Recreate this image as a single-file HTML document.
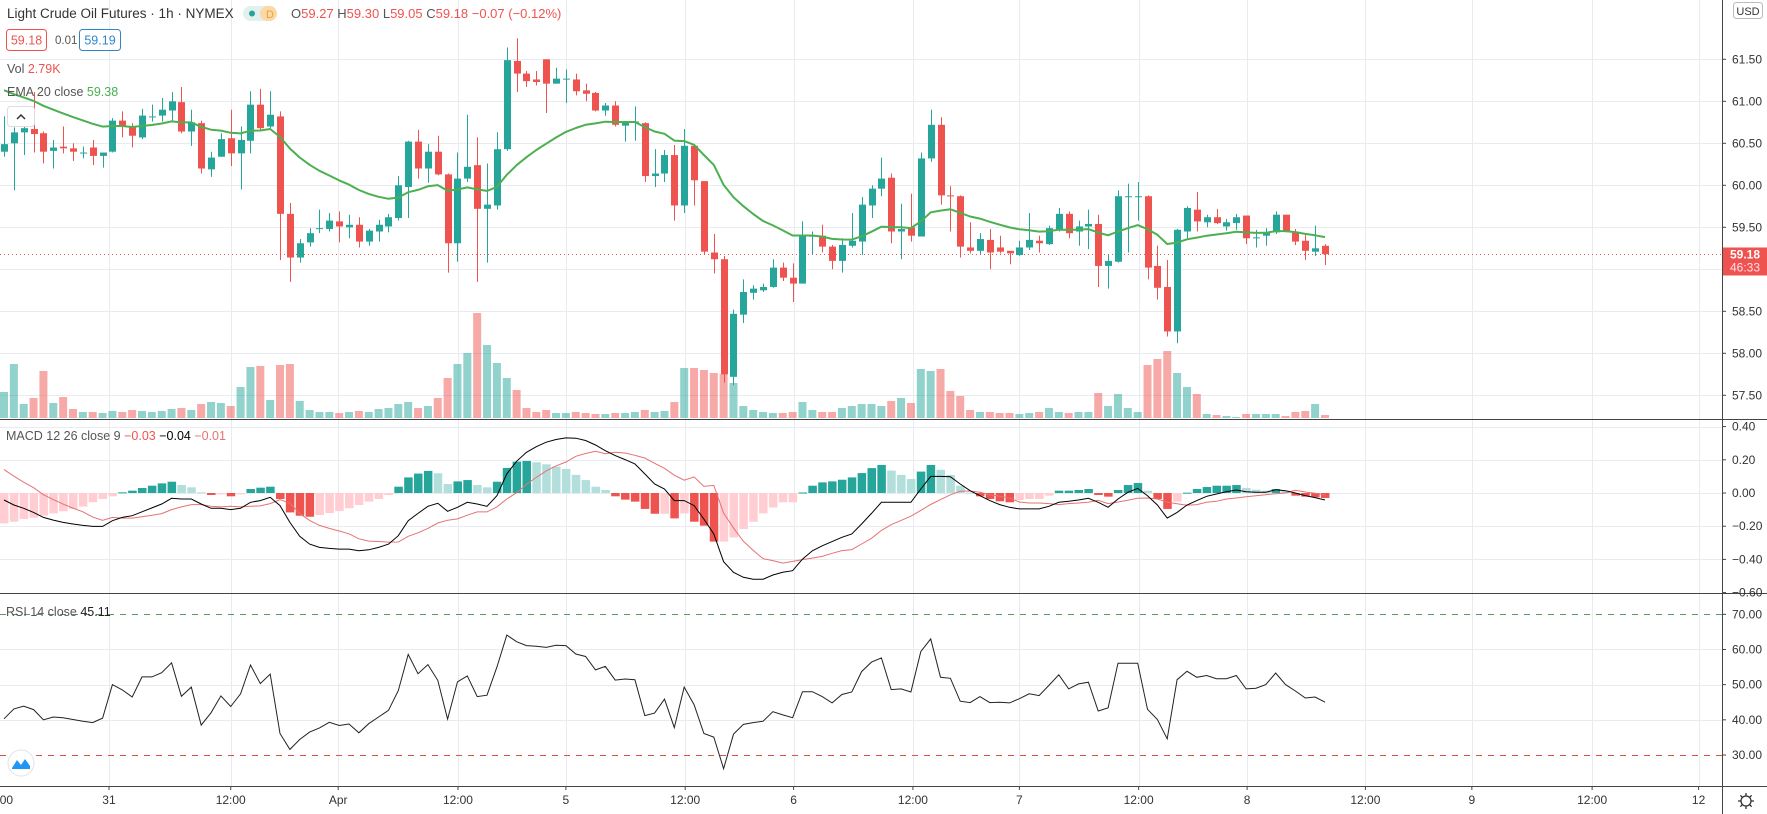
<!DOCTYPE html>
<html><head><meta charset="utf-8"><title>Light Crude Oil Futures</title>
<style>
html,body{margin:0;padding:0;background:#fff;width:1767px;height:814px;overflow:hidden;font-family:"Liberation Sans",sans-serif;}
svg{display:block}
</style></head>
<body>
<svg id="chart" width="1767" height="814" viewBox="0 0 1767 814" xmlns="http://www.w3.org/2000/svg" font-family="Liberation Sans, sans-serif"></svg>
<script>
// ---- data ----
const opens=[60.40,60.50,60.63,60.67,60.62,60.41,60.46,60.44,60.39,60.45,60.35,60.40,60.77,60.70,60.57,60.81,60.83,60.89,60.99,60.64,60.74,60.19,60.34,60.56,60.38,60.53,60.96,60.70,60.82,59.66,59.14,59.32,59.48,59.48,59.57,59.50,59.53,59.33,59.45,59.51,59.61,59.98,60.52,60.20,60.40,60.13,59.31,60.08,60.24,59.72,59.76,60.43,61.48,61.33,61.26,61.50,61.21,61.27,61.26,61.13,61.10,60.89,60.95,60.71,60.76,60.74,60.11,60.14,60.36,59.76,60.47,60.05,59.20,59.12,57.72,58.46,58.72,58.75,58.79,59.02,58.90,58.83,59.40,59.40,59.27,59.10,59.28,59.33,59.76,59.96,60.09,59.45,59.50,59.39,60.32,60.72,59.88,59.87,59.26,59.22,59.35,59.26,59.22,59.17,59.26,59.34,59.30,59.47,59.66,59.45,59.51,59.54,59.04,59.09,59.87,59.87,59.87,59.04,58.79,58.26,59.45,59.71,59.56,59.62,59.51,59.55,59.64,59.38,59.40,59.44,59.65,59.45,59.34,59.21,59.28];
const highs=[60.82,60.69,60.79,61.11,60.64,60.54,60.70,60.50,60.46,60.54,60.39,60.80,60.88,60.74,60.91,60.96,61.04,61.11,61.17,60.90,60.77,60.40,60.62,60.90,60.70,61.12,61.15,61.12,60.88,59.79,59.36,59.49,59.71,59.67,59.69,59.65,59.62,59.48,59.59,59.66,60.11,60.53,60.66,60.49,60.59,60.14,60.39,60.84,60.57,60.26,60.63,61.64,61.75,61.36,61.36,61.50,61.40,61.38,61.33,61.21,61.11,60.98,61.00,60.76,60.94,60.75,60.43,60.42,60.48,60.67,60.49,60.05,59.42,59.16,58.52,58.88,58.81,58.83,59.12,59.08,59.07,59.57,59.45,59.53,59.29,59.37,59.67,59.86,60.00,60.33,60.14,59.78,59.90,60.39,60.90,60.81,59.99,59.88,59.56,59.43,59.48,59.40,59.22,59.34,59.67,59.40,59.52,59.73,59.69,59.58,59.71,59.65,59.18,59.94,60.02,60.04,59.88,59.28,59.11,59.48,59.75,59.92,59.65,59.72,59.60,59.66,59.64,59.47,59.49,59.69,59.65,59.48,59.43,59.52,59.30];
const lows=[60.34,59.94,60.36,60.39,60.26,60.20,60.38,60.29,60.32,60.24,60.21,60.39,60.57,60.45,60.55,60.76,60.76,60.77,60.62,60.47,60.14,60.10,60.34,60.23,59.95,60.38,60.66,60.68,59.11,58.85,59.08,59.27,59.43,59.45,59.32,59.37,59.26,59.28,59.33,59.44,59.58,59.61,60.08,60.03,60.12,58.96,59.09,60.04,58.85,59.08,59.71,60.41,61.11,61.17,61.19,60.86,61.21,60.98,61.07,61.00,60.88,60.83,60.70,60.52,60.53,60.04,59.98,60.04,59.58,59.67,59.76,59.17,58.95,57.65,57.62,58.36,58.64,58.73,58.78,58.86,58.61,58.83,59.18,59.20,59.00,58.96,59.26,59.17,59.61,59.87,59.31,59.12,59.33,59.39,60.28,59.77,59.45,59.14,59.19,59.18,59.00,59.19,59.06,59.16,59.23,59.20,59.29,59.45,59.37,59.28,59.24,58.79,58.77,59.08,59.20,59.58,58.88,58.64,58.20,58.12,59.37,59.45,59.50,59.54,59.46,59.47,59.30,59.26,59.28,59.42,59.44,59.29,59.11,59.16,59.05];
const closes=[60.49,60.63,60.68,60.61,60.40,60.45,60.44,60.40,60.39,60.35,60.39,60.77,60.70,60.59,60.83,60.82,60.90,61.00,60.64,60.75,60.20,60.33,60.55,60.38,60.54,60.96,60.68,60.84,59.66,59.14,59.31,59.43,59.49,59.58,59.51,59.53,59.33,59.46,59.53,59.62,60.00,60.52,60.20,60.40,60.13,59.31,60.08,60.22,59.72,59.77,60.43,61.49,61.33,61.24,61.23,61.21,61.27,61.27,61.12,61.09,60.89,60.95,60.72,60.75,60.76,60.11,60.14,60.36,59.76,60.47,60.06,59.21,59.12,57.75,58.47,58.73,58.77,58.79,59.02,58.90,58.83,59.40,59.40,59.27,59.10,59.29,59.34,59.77,59.96,60.08,59.45,59.48,59.40,60.32,60.72,59.88,59.87,59.27,59.22,59.36,59.20,59.21,59.19,59.26,59.35,59.31,59.49,59.66,59.43,59.51,59.54,59.04,59.10,59.87,59.87,59.87,59.02,58.78,58.26,59.47,59.73,59.57,59.62,59.55,59.56,59.62,59.37,59.38,59.44,59.65,59.45,59.33,59.22,59.25,59.18];
const volumes=[26,54,14,20,47,15,21,9,6,6,5,7,6,8,7,6,7,9,10,8,14,16,15,12,31,51,52,18,53,54,17,8,6,6,5,6,7,6,9,10,14,16,10,12,20,40,54,65,105,73,55,40,28,10,6,8,5,5,6,5,4,4,5,5,6,8,6,7,16,50,50,48,45,44,35,12,8,6,5,5,6,16,8,6,6,10,12,14,14,12,17,20,15,49,47,49,27,22,8,6,6,5,5,4,5,6,10,6,5,6,6,25,12,24,10,6,53,59,67,45,31,24,4,3,2,1,4,4,4,4,2,6,7,14,3];
const macdLine=[-0.042,-0.072,-0.092,-0.117,-0.147,-0.163,-0.177,-0.187,-0.195,-0.201,-0.201,-0.167,-0.147,-0.137,-0.113,-0.09,-0.066,-0.032,-0.036,-0.036,-0.066,-0.092,-0.092,-0.1,-0.092,-0.056,-0.046,-0.026,-0.076,-0.177,-0.261,-0.308,-0.328,-0.334,-0.338,-0.338,-0.348,-0.342,-0.328,-0.308,-0.257,-0.167,-0.123,-0.08,-0.062,-0.11,-0.086,-0.056,-0.066,-0.08,-0.016,0.115,0.191,0.245,0.279,0.306,0.322,0.332,0.33,0.316,0.289,0.255,0.225,0.201,0.175,0.115,0.054,0.024,-0.046,-0.046,-0.076,-0.157,-0.247,-0.414,-0.478,-0.508,-0.519,-0.519,-0.494,-0.478,-0.468,-0.398,-0.348,-0.318,-0.293,-0.267,-0.247,-0.187,-0.123,-0.056,-0.056,-0.056,-0.056,0.024,0.1,0.1,0.098,0.054,0.014,-0.016,-0.046,-0.07,-0.086,-0.096,-0.096,-0.096,-0.08,-0.056,-0.05,-0.042,-0.032,-0.056,-0.086,-0.036,0.004,0.028,-0.016,-0.072,-0.151,-0.117,-0.072,-0.046,-0.02,-0.006,0.008,0.018,0.008,0.004,0.004,0.02,0.014,0,-0.016,-0.028,-0.042];
const macdHist=[-0.183,-0.173,-0.157,-0.149,-0.137,-0.123,-0.11,-0.096,-0.082,-0.056,-0.036,-0.02,0.004,0.014,0.03,0.044,0.058,0.068,0.048,0.034,0.004,-0.012,-0.008,-0.02,-0.008,0.024,0.032,0.038,-0.036,-0.117,-0.137,-0.143,-0.133,-0.121,-0.109,-0.092,-0.072,-0.052,-0.036,-0.012,0.038,0.094,0.117,0.133,0.119,0.054,0.07,0.078,0.048,0.034,0.068,0.151,0.189,0.193,0.185,0.173,0.159,0.145,0.109,0.078,0.038,0.018,-0.02,-0.04,-0.052,-0.096,-0.125,-0.125,-0.153,-0.123,-0.173,-0.197,-0.293,-0.293,-0.268,-0.217,-0.173,-0.123,-0.087,-0.056,-0.056,0.003,0.044,0.064,0.07,0.08,0.094,0.12,0.15,0.169,0.135,0.109,0.084,0.129,0.169,0.14,0.109,0.044,0.002,-0.02,-0.036,-0.05,-0.056,-0.042,-0.036,-0.036,-0.016,0.014,0.014,0.018,0.024,-0.012,-0.022,0.018,0.048,0.06,0.014,-0.036,-0.096,-0.052,0.002,0.024,0.036,0.044,0.044,0.048,0.03,0.02,0.014,0.024,0.014,-0.016,-0.022,-0.026,-0.03];
const rsiValues=[40.3,43.1,43.9,42.9,40.0,40.8,40.6,40.1,39.6,39.2,40.5,50.0,48.5,46.5,52.2,52.2,53.4,56.2,46.7,49.3,38.5,42.0,46.8,43.8,47.4,55.6,50.3,53.0,36.1,31.6,34.4,36.5,37.7,39.3,38.4,38.8,36.3,38.9,40.8,42.7,48.3,58.6,53.1,55.7,51.2,40.2,50.8,52.5,46.6,47.0,55.0,64.1,62.2,61.1,60.9,60.6,61.2,61.1,58.7,58.0,54.2,55.2,51.3,51.6,51.4,41.2,41.9,45.9,37.8,49.3,44.3,36.1,35.1,26.1,35.9,38.7,39.2,39.6,42.3,41.4,40.6,48.0,48.0,46.6,44.8,47.2,47.9,53.7,56.4,57.6,48.6,48.8,47.9,59.4,63.0,52.1,51.8,45.3,44.9,46.6,44.9,45.0,44.8,46.0,47.4,46.9,49.8,52.8,48.8,50.2,50.7,42.5,43.4,56.1,56.1,56.1,43.0,40.1,34.6,51.4,53.8,52.1,52.6,51.7,51.7,52.6,48.8,49.0,50.0,53.3,50.0,48.2,46.2,46.5,45.0];
const priceTicks=[61.5,61.0,60.5,60.0,59.5,59.0,58.5,58.0,57.5];
const priceTickLabels=["61.50","61.00","60.50","60.00","59.50","59.00","58.50","58.00","57.50"];
const macdTicks=[0.4,0.2,0,-0.2,-0.4,-0.6];
const macdTickLabels=["0.40","0.20","0.00","\u22120.20","\u22120.40","\u22120.60"];
const rsiTicks=[70,60,50,40,30];
const rsiTickLabels=["70.00","60.00","50.00","40.00","30.00"];
const timeTickIdx=[-0.6,10.65,23.0,33.9,46.05,57.0,69.1,80.1,92.2,103.0,115.1,126.1,138.1,148.9,161.1,171.9];
const timeTickLabels=["12:00","31","12:00","Apr","12:00","5","12:00","6","12:00","7","12:00","8","12:00","9","12:00","12"];
const emaSeed=61.2;

// ---- scales ----
const NS="http://www.w3.org/2000/svg";
const svg=document.getElementById('chart');
const PLOT_R=1722;
const xOf=i=>4+i*9.858;
const yP=p=>59.3+(61.5-p)*84;
const yM=v=>493-v*166;
const yR=r=>614.3+(70-r)*3.5175;
const volMax=Math.max(...volumes);
const yV=v=>418-v/volMax*105;
const UP="#26a69a",DN="#ef5350";
function mk(tag,attrs,parent){const e=document.createElementNS(NS,tag);for(const k in attrs)e.setAttribute(k,attrs[k]);(parent||svg).appendChild(e);return e;}
function txt(s,attrs,parent){const e=mk('text',attrs,parent);e.textContent=s;return e;}

// grid
const grid=mk('g',{});


timeTickIdx.forEach(i=>{const x=Math.round(xOf(i))+0.5;mk('line',{x1:x,x2:x,y1:0,y2:786,stroke:'#e8ebf0','stroke-width':1},grid);});
priceTicks.forEach(p=>{const y=Math.round(yP(p))+0.5;mk('line',{x1:0,x2:PLOT_R,y1:y,y2:y,stroke:'#e8ebf0'},grid);});
macdTicks.forEach(v=>{const y=Math.round(yM(v))+0.5;if(y>420&&y<593)mk('line',{x1:0,x2:PLOT_R,y1:y,y2:y,stroke:'#e8ebf0'},grid);});
[60,50,40].forEach(r=>{const y=Math.round(yR(r))+0.5;mk('line',{x1:0,x2:PLOT_R,y1:y,y2:y,stroke:'#e8ebf0'},grid);});

// volume
const volG=mk('g',{});


volumes.forEach((v,i)=>{const up=closes[i]>=opens[i];const y=yV(v);
 const r=mk('rect',{x:xOf(i)-4,y:y,width:8,height:418-y,fill:up?UP:DN,'fill-opacity':0.5},volG);
 
 });

// current price line
const cy=Math.round(yP(closes[closes.length-1]))+0.5;
const pl=mk('line',{x1:0,x2:PLOT_R,y1:cy,y2:cy,stroke:DN,'stroke-dasharray':'1 3','stroke-width':1});



// candles
const cG=mk('g',{});


opens.forEach((o,i)=>{const c=closes[i],up=c>=o,col=up?UP:DN,x=Math.round(xOf(i));
 const g=mk('g',{},cG);
 
 
 mk('line',{x1:x+0.5,x2:x+0.5,y1:yP(highs[i]),y2:yP(lows[i]),stroke:col,'stroke-width':1},g);
 const t=yP(Math.max(o,c)),b=yP(Math.min(o,c));
 mk('rect',{x:x-3,y:t,width:7,height:Math.max(1,b-t),fill:col},g);});

// EMA 20
let ema=emaSeed;const ek=2/21;const emaPts=[];
closes.forEach((c,i)=>{ema=c*ek+ema*(1-ek);emaPts.push(xOf(i).toFixed(1)+','+yP(ema).toFixed(1));});
const emaL=mk('polyline',{points:emaPts.join(' '),fill:'none',stroke:'#4caf50','stroke-width':2,'stroke-linejoin':'round'});



// MACD
const mG=mk('g',{});


macdHist.forEach((h,i)=>{const prev=i>0?macdHist[i-1]:h;let col;
 if(h>=0)col=h>=prev?'#26a69a':'#b2dfdb';else col=h<prev?'#ef5350':'#ffcdd2';
 const y0=yM(0),y1=yM(h);
 const r=mk('rect',{x:xOf(i)-4,y:Math.min(y0,y1),width:8.5,height:Math.max(1,Math.abs(y1-y0)),fill:col},mG);
 
 });
const sigPts=macdLine.map((m,i)=>xOf(i).toFixed(1)+','+yM(m-macdHist[i]).toFixed(1));
const sigL=mk('polyline',{points:sigPts.join(' '),fill:'none',stroke:'#e57373','stroke-width':1});


const mPts=macdLine.map((m,i)=>xOf(i).toFixed(1)+','+yM(m).toFixed(1));
const mL=mk('polyline',{points:mPts.join(' '),fill:'none',stroke:'#000','stroke-width':1});



// RSI
const r70=mk('line',{x1:0,x2:PLOT_R,y1:Math.round(yR(70))+0.5,y2:Math.round(yR(70))+0.5,stroke:'#5b9a68','stroke-dasharray':'6 6'});


const r30=mk('line',{x1:0,x2:PLOT_R,y1:Math.round(yR(30))+0.5,y2:Math.round(yR(30))+0.5,stroke:'#d9534f','stroke-dasharray':'6 6'});


const rPts=rsiValues.map((r,i)=>xOf(i).toFixed(1)+','+yR(r).toFixed(1));
const rL=mk('polyline',{points:rPts.join(' '),fill:'none',stroke:'#222','stroke-width':1});



// pane separators and axes
mk('line',{x1:0,x2:1767,y1:419.5,y2:419.5,stroke:'#444','stroke-width':1});
mk('line',{x1:0,x2:1767,y1:593.5,y2:593.5,stroke:'#444','stroke-width':1});
mk('line',{x1:0,x2:1767,y1:786.5,y2:786.5,stroke:'#444','stroke-width':1});
mk('line',{x1:PLOT_R+0.5,x2:PLOT_R+0.5,y1:0,y2:814,stroke:'#444','stroke-width':1});

const axG=mk('g',{});


priceTicks.forEach((p,i)=>{const y=yP(p);mk('line',{x1:PLOT_R,x2:PLOT_R+4,y1:y,y2:y,stroke:'#444'},axG);
 const t=txt(priceTickLabels[i],{x:1732,y:y+4,'font-size':12,fill:'#333'},axG);
 
 });
const mAx=mk('g',{});


macdTicks.forEach((v,i)=>{const y=yM(v);mk('line',{x1:PLOT_R,x2:PLOT_R+4,y1:y,y2:y,stroke:'#444'},mAx);
 const t=txt(macdTickLabels[i],{x:1732,y:y+4,'font-size':12,fill:'#333'},mAx);
 
 });
const rAx=mk('g',{});


rsiTicks.forEach((v,i)=>{const y=yR(v);mk('line',{x1:PLOT_R,x2:PLOT_R+4,y1:y,y2:y,stroke:'#444'},rAx);
 const t=txt(rsiTickLabels[i],{x:1732,y:y+4,'font-size':12,fill:'#333'},rAx);
 
 });
const tAx=mk('g',{});


timeTickIdx.forEach((i,k)=>{const x=xOf(i);mk('line',{x1:x,x2:x,y1:786,y2:790,stroke:'#444'},tAx);
 const t=txt(timeTickLabels[k],{x:x,y:804,'font-size':12,fill:'#333','text-anchor':'middle'},tAx);
 
 });
// cover right-axis area overlap
// last price label
const lp=mk('g',{});


mk('rect',{x:PLOT_R+1,y:cy-7,width:45,height:28,fill:DN},lp);
txt(closes[closes.length-1].toFixed(2),{x:1730,y:cy+4,'font-size':12,'font-weight':'bold',fill:'#fff'},lp);
txt('46:33',{x:1730,y:cy+17,'font-size':12,fill:'#fde'},lp);
// USD
const usd=mk('g',{});


mk('rect',{x:1733.5,y:2.5,width:29,height:16,rx:3,fill:'#fff',stroke:'#bbb'},usd);
txt('USD',{x:1748,y:15,'font-size':11,fill:'#333','text-anchor':'middle'},usd);
// settings gear
const gear=mk('g',{});


mk('circle',{cx:1746,cy:801,r:5,fill:'none',stroke:'#333','stroke-width':1.3},gear);
[0,45,90,135].forEach(a=>{const r=a*Math.PI/180;mk('line',{x1:1746-8*Math.cos(r),y1:801-8*Math.sin(r),x2:1746+8*Math.cos(r),y2:801+8*Math.sin(r),stroke:'#333','stroke-width':1.3,'stroke-dasharray':'2.5 11'},gear);});

// legends
const hdr=mk('g',{});


txt('Light Crude Oil Futures · 1h · NYMEX',{x:7,y:18,'font-size':13.5,fill:'#333'},hdr);
mk('rect',{x:243,y:6,width:34,height:15,rx:7.5,fill:'#e3f1ee'},hdr);
mk('rect',{x:260,y:6,width:17,height:15,rx:7.5,fill:'#fbd9a6'},hdr);
mk('circle',{cx:252,cy:13.5,r:3,fill:'#26a69a'},hdr);
txt('D',{x:266,y:18,'font-size':11,fill:'#f0a030'},hdr);
const ohlc=txt('',{x:291,y:18,'font-size':13,fill:'#555'},hdr);
[['O','#555'],['59.27 ',DN],['H','#555'],['59.30 ',DN],['L','#555'],['59.05 ',DN],['C','#555'],['59.18 −0.07 (−0.12%)',DN]].forEach(([s,c])=>{const t=mk('tspan',{fill:c},ohlc);t.textContent=s;});
const bx=mk('g',{});


mk('rect',{x:6.5,y:29.5,width:40,height:21,rx:3,fill:'#fff',stroke:DN},bx);
txt('59.18',{x:26.5,y:44.5,'font-size':12.5,fill:DN,'text-anchor':'middle'},bx);
txt('0.01',{x:55,y:44,'font-size':11.5,fill:'#555'},bx);
mk('rect',{x:79.5,y:29.5,width:41,height:21,rx:3,fill:'#fff',stroke:'#2e86c9'},bx);
txt('59.19',{x:100,y:44.5,'font-size':12.5,fill:'#2e86c9','text-anchor':'middle'},bx);
const vl=txt('',{x:7,y:73,'font-size':12.5,fill:'#555'});


[['Vol ','#555'],[' 2.79K',DN]].forEach(([s,c])=>{const t=mk('tspan',{fill:c},vl);t.textContent=s;});
const el=txt('',{x:7,y:96,'font-size':12.5,fill:'#555'});


[['EMA 20 close ','#555'],[' 59.38','#4caf50']].forEach(([s,c])=>{const t=mk('tspan',{fill:c},el);t.textContent=s;});
const col=mk('g',{});


mk('rect',{x:7.5,y:106.5,width:27,height:20,rx:3,fill:'#fff',stroke:'#ddd'},col);
mk('polyline',{points:'17,119 21,115 25,119',fill:'none',stroke:'#333','stroke-width':1.5},col);
const ml=txt('',{x:6,y:440,'font-size':12.5,fill:'#555'});


[['MACD 12 26 close 9 ','#555'],[' \u22120.03 ',DN],[' \u22120.04 ','#000'],[' \u22120.01','#e57373']].forEach(([s,c])=>{const t=mk('tspan',{fill:c},ml);t.textContent=s;});
const rl=txt('',{x:6,y:616,'font-size':12.5,fill:'#555'});


[['RSI 14 close ','#555'],[' 45.11','#222']].forEach(([s,c])=>{const t=mk('tspan',{fill:c},rl);t.textContent=s;});
const logo=mk('g',{});


mk('circle',{cx:21,cy:763,r:13,fill:'#fff',stroke:'#e0e3eb'},logo);
mk('path',{d:'M12 768 L17 760 L21 765 L25 759 L30 766 L30 769 L12 769 Z',fill:'#2196f3'},logo);
</script>
</body></html>
